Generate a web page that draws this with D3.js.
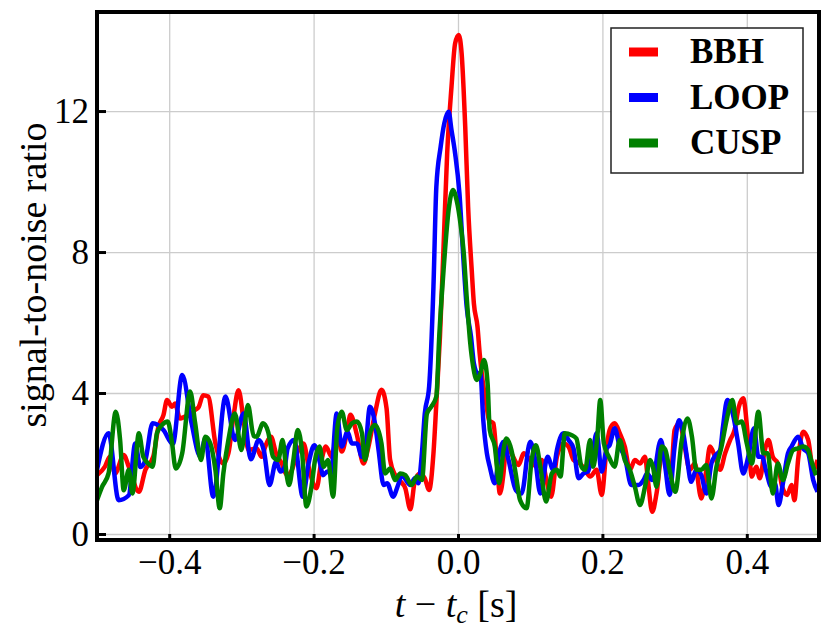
<!DOCTYPE html>
<html>
<head>
<meta charset="utf-8">
<script src="https://cdn.jsdelivr.net/npm/d3@7"></script>
<style>
    body { margin: 0; background: #fff; }
</style>
</head>
<body>
<div class="snr-chart"></div>
<script>
// series (time in s relative to t_c, SNR)
const bbhTime = [-0.500,-0.489,-0.482,-0.475,-0.463,-0.456,-0.442,-0.433,-0.422,-0.415,-0.408,-0.403,-0.396,-0.392,-0.385,-0.378,-0.371,-0.364,-0.359,-0.353,-0.346,-0.336,-0.325,-0.318,-0.311,-0.304,-0.297,-0.290,-0.279,-0.272,-0.267,-0.259,-0.252,-0.244,-0.237,-0.230,-0.223,-0.214,-0.206,-0.196,-0.189,-0.183,-0.175,-0.167,-0.161,-0.154,-0.149,-0.140,-0.131,-0.124,-0.115,-0.106,-0.099,-0.094,-0.087,-0.080,-0.073,-0.066,-0.060,-0.053,-0.046,-0.040,-0.034,-0.030,-0.025,-0.020,-0.015,-0.009,-0.004,0.001,0.005,0.010,0.014,0.019,0.022,0.027,0.030,0.034,0.039,0.043,0.049,0.054,0.058,0.063,0.067,0.074,0.084,0.091,0.100,0.109,0.116,0.123,0.129,0.137,0.146,0.153,0.160,0.169,0.176,0.183,0.192,0.199,0.206,0.210,0.217,0.224,0.231,0.238,0.245,0.252,0.259,0.263,0.269,0.275,0.282,0.289,0.295,0.300,0.307,0.314,0.321,0.328,0.337,0.344,0.349,0.356,0.363,0.370,0.377,0.383,0.389,0.395,0.402,0.407,0.413,0.418,0.425,0.430,0.436,0.443,0.449,0.456,0.462,0.466,0.471,0.478,0.485,0.492,0.498];
const bbhSnr = [1.67,1.91,2.20,1.72,2.24,1.91,1.20,1.82,2.20,3.04,3.37,3.80,3.61,3.70,3.28,3.33,3.38,3.52,3.61,3.94,3.90,2.57,2.00,2.29,3.33,4.08,3.23,2.38,2.43,2.19,2.48,2.76,2.29,2.00,1.67,1.82,2.29,2.57,1.82,1.30,2.10,2.48,2.19,2.86,2.34,2.86,3.38,2.81,2.00,2.48,3.42,4.09,3.57,2.10,1.67,1.50,1.30,0.70,1.48,1.72,1.58,1.25,2.29,3.71,5.60,8.15,10.80,12.69,13.92,14.16,13.64,11.56,9.29,7.49,6.54,5.88,5.13,4.37,3.71,3.23,3.14,2.00,1.15,1.72,2.57,2.29,1.96,2.29,2.10,1.91,2.10,1.48,1.06,2.19,2.57,2.48,2.10,2.00,1.82,1.63,1.82,1.11,2.48,2.95,3.14,2.86,2.48,1.82,2.10,2.00,2.19,1.53,0.63,1.15,2.19,2.00,1.72,2.95,3.14,2.48,1.82,2.00,1.01,1.82,2.48,2.19,1.82,2.29,2.67,2.95,3.61,3.85,2.67,1.63,1.91,1.58,2.38,2.67,2.19,2.00,1.34,1.11,1.39,0.96,2.10,2.90,2.67,1.82,2.10];

const loopTime = [-0.500,-0.484,-0.470,-0.456,-0.447,-0.440,-0.433,-0.423,-0.408,-0.395,-0.382,-0.369,-0.357,-0.350,-0.339,-0.322,-0.309,-0.297,-0.287,-0.276,-0.269,-0.261,-0.252,-0.246,-0.240,-0.236,-0.227,-0.215,-0.207,-0.199,-0.191,-0.187,-0.181,-0.176,-0.168,-0.161,-0.153,-0.147,-0.140,-0.133,-0.129,-0.122,-0.115,-0.110,-0.103,-0.098,-0.090,-0.083,-0.078,-0.066,-0.060,-0.055,-0.050,-0.046,-0.040,-0.034,-0.030,-0.024,-0.019,-0.013,-0.009,-0.004,0.002,0.007,0.012,0.018,0.022,0.027,0.031,0.035,0.040,0.044,0.051,0.057,0.063,0.070,0.080,0.088,0.100,0.107,0.114,0.124,0.132,0.137,0.146,0.153,0.160,0.167,0.174,0.180,0.187,0.192,0.199,0.206,0.210,0.217,0.224,0.231,0.240,0.250,0.257,0.262,0.269,0.281,0.287,0.293,0.300,0.306,0.312,0.317,0.323,0.330,0.337,0.344,0.351,0.357,0.363,0.367,0.373,0.381,0.388,0.395,0.402,0.410,0.416,0.421,0.427,0.434,0.439,0.444,0.450,0.457,0.462,0.471,0.478,0.485,0.492,0.498];
const loopSnr = [1.82,2.86,0.96,1.10,2.57,1.90,2.10,3.14,2.95,2.55,4.51,3.14,2.20,2.71,1.06,3.90,2.67,3.42,2.12,2.67,2.38,1.39,2.05,1.77,1.91,2.43,2.67,1.06,2.00,2.52,2.00,1.67,1.77,1.72,3.42,2.48,2.90,2.57,2.57,2.19,2.29,3.61,3.14,2.38,1.39,1.44,1.06,1.39,1.67,1.39,1.58,1.44,2.29,3.42,4.18,7.02,9.85,10.99,11.65,11.98,11.46,10.80,9.66,7.96,6.45,5.60,4.84,4.56,4.56,3.23,2.29,1.91,1.44,2.29,2.62,2.10,1.25,1.15,2.62,2.10,1.15,2.19,1.82,2.38,2.86,2.67,2.43,1.58,1.72,1.77,2.38,2.86,1.77,2.43,2.52,3.00,2.48,2.19,1.39,1.39,1.53,1.72,1.53,2.67,1.91,1.11,2.48,3.23,2.86,2.19,1.48,1.82,1.67,1.15,2.00,2.24,2.38,3.04,3.80,3.38,2.57,1.72,2.19,3.00,2.19,2.19,1.77,1.34,1.44,0.82,1.44,2.29,2.48,2.76,2.43,2.29,1.53,1.20];

const cuspTime = [-0.500,-0.493,-0.484,-0.474,-0.468,-0.463,-0.456,-0.451,-0.442,-0.436,-0.429,-0.423,-0.417,-0.410,-0.402,-0.396,-0.391,-0.382,-0.371,-0.364,-0.356,-0.350,-0.343,-0.336,-0.330,-0.325,-0.318,-0.309,-0.300,-0.291,-0.283,-0.279,-0.270,-0.263,-0.256,-0.249,-0.243,-0.237,-0.234,-0.228,-0.222,-0.216,-0.210,-0.203,-0.198,-0.192,-0.186,-0.180,-0.173,-0.167,-0.161,-0.154,-0.147,-0.140,-0.133,-0.129,-0.122,-0.115,-0.106,-0.101,-0.094,-0.087,-0.080,-0.073,-0.064,-0.057,-0.050,-0.043,-0.037,-0.030,-0.026,-0.020,-0.013,-0.007,-0.002,0.004,0.008,0.012,0.017,0.021,0.026,0.031,0.036,0.041,0.044,0.051,0.057,0.063,0.067,0.074,0.080,0.086,0.095,0.102,0.108,0.114,0.122,0.130,0.137,0.142,0.148,0.157,0.164,0.171,0.176,0.183,0.187,0.193,0.197,0.202,0.209,0.217,0.224,0.231,0.238,0.245,0.252,0.259,0.266,0.270,0.275,0.282,0.287,0.293,0.301,0.310,0.318,0.324,0.330,0.337,0.344,0.351,0.358,0.365,0.372,0.380,0.386,0.393,0.400,0.407,0.416,0.423,0.429,0.436,0.443,0.450,0.457,0.464,0.471,0.478,0.485,0.489,0.496];
const cuspSnr = [0.96,1.34,1.72,3.47,2.67,1.24,1.82,1.15,2.86,2.20,2.00,1.91,2.86,3.09,3.19,2.57,1.86,2.29,4.04,3.14,2.10,2.76,2.57,1.82,0.73,1.72,2.67,3.42,2.38,3.66,2.78,2.76,3.14,2.90,2.19,2.10,2.67,1.63,1.39,2.10,2.95,2.34,0.78,1.34,2.10,2.48,1.91,2.10,1.06,3.04,3.47,2.95,3.14,3.19,2.86,2.10,2.86,3.09,2.57,1.72,1.86,1.53,1.72,1.67,1.39,1.63,1.53,3.42,3.61,3.90,5.60,7.49,9.19,9.76,9.48,8.72,7.96,6.73,5.41,4.75,4.37,4.56,4.94,4.27,2.95,2.48,1.44,2.38,2.71,2.38,1.70,0.96,0.73,2.10,2.52,1.91,0.92,1.72,1.82,1.63,2.86,2.81,2.71,1.91,1.82,2.67,1.91,2.76,3.80,2.57,2.19,1.91,2.67,2.10,1.82,1.34,0.82,1.34,2.10,1.91,1.34,2.48,2.40,1.82,1.20,2.67,3.28,2.76,1.82,1.82,1.96,1.01,1.91,2.48,3.23,3.80,3.14,3.19,2.57,2.00,3.47,2.29,2.29,1.15,2.00,1.53,2.00,2.38,2.43,2.48,2.38,2.10,1.67];

const seriesNames = ["BBH", "LOOP", "CUSP"];
const seriesColors = ["#ff0000", "#0000ff", "#008000"];
const xTicks = [-0.4, -0.2, 0.0, 0.2, 0.4];
const yTicks = [0, 4, 8, 12];

const serif = "Liberation Serif";

const width = 831, height = 640,
    margin = { top: 12, right: 12, bottom: 100, left: 97 },
    innerW = width - margin.left - margin.right,
    innerH = height - margin.top - margin.bottom;

const series = [
    { name: seriesNames[0], color: seriesColors[0], t: bbhTime, v: bbhSnr },
    { name: seriesNames[1], color: seriesColors[1], t: loopTime, v: loopSnr },
    { name: seriesNames[2], color: seriesColors[2], t: cuspTime, v: cuspSnr }
];

let svg = d3.select(".snr-chart").append("svg")
    .attr("width", width).attr("height", height);

let x = d3.scaleLinear().domain([-0.5, 0.5]).range([0, innerW]),
    y = d3.scaleLinear().domain([-0.17, 14.81]).range([innerH, 0]);

let g = svg.append("g")
    .attr("transform", "translate(" + margin.left + "," + margin.top + ")");

g.append("clipPath").attr("id", "plot-clip")
    .append("rect").attr("width", innerW).attr("height", innerH);

// grid
g.append("g")
    .attr("transform", "translate(0," + innerH + ")")
    .call(d3.axisBottom(x).tickValues(xTicks).tickSize(-innerH).tickFormat(""))
    .call(a => a.select(".domain").remove())
    .selectAll("line").attr("stroke", "#cccccc").attr("stroke-width", 1.3);

g.append("g")
    .call(d3.axisLeft(y).tickValues(yTicks).tickSize(-innerW).tickFormat(""))
    .call(a => a.select(".domain").remove())
    .selectAll("line").attr("stroke", "#cccccc").attr("stroke-width", 1.3);

// lines
let line = d3.line().curve(d3.curveMonotoneX);

g.append("g").attr("clip-path", "url(#plot-clip)")
    .selectAll("path")
    .data(series)
    .enter().append("path")
    .attr("fill", "none")
    .attr("stroke", d => d.color)
    .attr("stroke-width", 4.5)
    .attr("stroke-linejoin", "round")
    .attr("d", d => line(d.t.map((t, i) => [x(t), y(d.v[i])])));

// axes with inward ticks
let xAxis = g.append("g")
    .attr("transform", "translate(0," + innerH + ")")
    .call(d3.axisBottom(x).tickValues(xTicks).tickSize(-6).tickPadding(9).tickFormat(d3.format(".1f")));
xAxis.attr("font-family", serif).attr("font-size", 35);
xAxis.select(".domain").remove();
xAxis.selectAll("line").attr("stroke", "#000").attr("stroke-width", 3);
xAxis.selectAll("text").attr("dy", "0.71em");

let yAxis = g.append("g")
    .call(d3.axisLeft(y).tickValues(yTicks).tickSize(-9).tickPadding(8).tickFormat(d3.format("d")));
yAxis.attr("font-family", serif).attr("font-size", 35);
yAxis.select(".domain").remove();
yAxis.selectAll("line").attr("stroke", "#000").attr("stroke-width", 3);

// frame
g.append("rect")
    .attr("width", innerW).attr("height", innerH)
    .attr("fill", "none").attr("stroke", "#000").attr("stroke-width", 4);

// axis labels
svg.append("text")
    .attr("transform", "translate(46," + (margin.top + 263) + ") rotate(-90)")
    .attr("text-anchor", "middle")
    .attr("font-family", serif)
    .attr("font-size", 38)
    .text("signal-to-noise ratio");

let xl = svg.append("text")
    .attr("x", margin.left + innerW / 2 - 2).attr("y", 617)
    .attr("text-anchor", "middle")
    .attr("font-family", serif)
    .attr("font-size", 38);
xl.append("tspan").attr("font-style", "italic").text("t");
xl.append("tspan").text(" − ");
xl.append("tspan").attr("font-style", "italic").text("t");
xl.append("tspan").attr("font-style", "italic").attr("font-size", 26).attr("dy", 6).text("c");
xl.append("tspan").attr("dy", -6).text(" [s]");

// legend
let legend = svg.append("g").attr("transform", "translate(611,28)");
legend.append("rect")
    .attr("width", 192).attr("height", 145)
    .attr("fill", "#fff").attr("stroke", "#222").attr("stroke-width", 1.5);

let items = legend.selectAll(".item")
    .data(series)
    .enter().append("g")
    .attr("transform", (d, i) => "translate(0," + (24 + i * 45.5) + ")");

items.append("line")
    .attr("x1", 18).attr("x2", 47)
    .attr("stroke", d => d.color).attr("stroke-width", 9);

items.append("text")
    .attr("x", 79).attr("y", 11)
    .attr("font-family", serif)
    .attr("font-size", 35).attr("font-weight", "bold")
    .text(d => d.name);
</script>
</body>
</html>
